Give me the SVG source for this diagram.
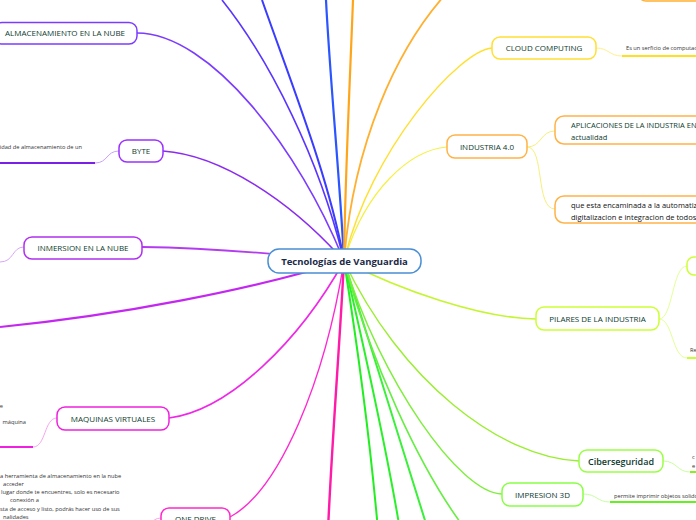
<svg xmlns="http://www.w3.org/2000/svg" width="696" height="520" viewBox="0 0 696 520">
<style>
.lbl{font-family:"Open Sans","Noto Sans","Liberation Sans",sans-serif;font-size:8px;fill:#0d3b2e;text-anchor:middle}
.sm{font-family:"Open Sans","Noto Sans","Liberation Sans",sans-serif;font-size:5.7px;fill:#333}
.box{fill:#fff;stroke-width:1.5}
.c{fill:none}
</style>
<rect width="696" height="520" fill="#fff"/>
<g id="connectors">
  <path class="c" d="M222,0 C270,60 320,160 344,261" stroke="#5a35ff" stroke-width="1.6"/>
  <path class="c" d="M137,33 C210,33 300,150 344,261" stroke="#7b3cff" stroke-width="1.6"/>
  <path class="c" d="M262,0 C290,80 330,180 344,261" stroke="#3a3cff" stroke-width="2"/>
  <path class="c" d="M326,0 C330,80 340,180 344,261" stroke="#2a55ff" stroke-width="2.2"/>
  <path class="c" d="M353,0 C350,80 345,180 344,261" stroke="#ffa51a" stroke-width="2.2"/>
  <path class="c" d="M344,261 C352,160 390,40 470,-30" stroke="#ffb030" stroke-width="1.8"/>
  <path class="c" d="M492,48 C460,50 370,150 344,261" stroke="#ffe030" stroke-width="1.4"/>
  <path class="c" d="M447,147 C410,150 365,190 344,261" stroke="#f5f040" stroke-width="1.2"/>
  <path class="c" d="M163,151 C220,155 290,200 344,261" stroke="#8a2cf0" stroke-width="1.6"/>
  <path class="c" d="M142,247 C220,248 290,255 344,261" stroke="#b43cf0" stroke-width="1.8"/>
  <path class="c" d="M0,327 C120,315 250,290 344,261" stroke="#c428f0" stroke-width="2.2"/>
  <path class="c" d="M169,418 C230,410 300,340 344,261" stroke="#ee28e6" stroke-width="1.6"/>
  <path class="c" d="M230,517 C280,490 325,380 344,261" stroke="#ff28d0" stroke-width="1.4"/>
  <path class="c" d="M328,530 C332,440 340,340 344,261" stroke="#ff1aa8" stroke-width="2.4"/>
  <path class="c" d="M344,261 C355,330 370,440 378,530" stroke="#22ee22" stroke-width="2"/>
  <path class="c" d="M344,261 C360,330 385,440 400,530" stroke="#2af02a" stroke-width="2"/>
  <path class="c" d="M344,261 C365,330 400,440 428,530" stroke="#3af03a" stroke-width="2"/>
  <path class="c" d="M344,261 C370,360 420,470 466,530" stroke="#66ee44" stroke-width="1.6"/>
  <path class="c" d="M502,494 C460,494 380,380 344,261" stroke="#7eee3c" stroke-width="1.4"/>
  <path class="c" d="M579,461 C500,458 400,380 344,261" stroke="#9aee30" stroke-width="1.4"/>
  <path class="c" d="M536,319 C480,318 400,290 344,261" stroke="#c4f530" stroke-width="1.6"/>
  <!-- sub-branches -->
  <path class="c" d="M119,151 C106,151 108,163 95,163" stroke="#c9a0ff" stroke-width="1"/>
  <path class="c" d="M95,163 L-5,163" stroke="#7a1fe6" stroke-width="2"/>
  <path class="c" d="M24,247 C12,247 14,262 0,262" stroke="#d8a6f8" stroke-width="1"/>
  <path class="c" d="M57,418 C44,418 46,447 33,447" stroke="#f6a6f0" stroke-width="1"/>
  <path class="c" d="M33,447 L-5,447" stroke="#f020e0" stroke-width="2"/>
  <path class="c" d="M161,518 C150,518 150,530 140,530" stroke="#f6a6ea" stroke-width="1"/>
  <path class="c" d="M596,48 C609,48 609,56 622,56" stroke="#fff08a" stroke-width="1"/>
  <path class="c" d="M622,56 L700,56" stroke="#ffe020" stroke-width="2"/>
  <path class="c" d="M527,147 C542,147 540,131 555,131" stroke="#f5f07a" stroke-width="1"/>
  <path class="c" d="M527,147 C545,147 535,209 555,209" stroke="#f5f07a" stroke-width="1"/>
  <path class="c" d="M659,319 C673,319 672,266 687,266" stroke="#e2ff96" stroke-width="1"/>
  <path class="c" d="M659,319 C673,319 672,358 687,358" stroke="#e2ff96" stroke-width="1"/>
  <path class="c" d="M687,358 L700,358" stroke="#c8ff30" stroke-width="2"/>
  <path class="c" d="M663,461 C677,461 677,472 690,472" stroke="#c8ff9a" stroke-width="1"/>
  <path class="c" d="M690,472 L700,472" stroke="#88ee22" stroke-width="2"/>
  <path class="c" d="M583,494 C597,494 597,502 610,502" stroke="#c4ffa0" stroke-width="1"/>
  <path class="c" d="M610,502 L700,502" stroke="#66f022" stroke-width="2"/>
</g>
<g id="n-center">
  <rect class="box" x="268" y="249" width="153" height="24" rx="11" stroke="#4a8fd4" stroke-width="1.2"/>
  <text x="344.5" y="264.5" style="font-family:'Open Sans','Noto Sans',sans-serif;font-size:9.5px;font-weight:bold;fill:#1b2a48;text-anchor:middle">Tecnologías de Vanguardia</text>
</g>
<g id="n-almacenamiento">
  <rect class="box" x="-6" y="22.5" width="143" height="21.5" rx="8" stroke="#7b3cff"/>
  <text class="lbl" x="65" y="36">ALMACENAMIENTO EN LA NUBE</text>
</g>
<g id="n-byte">
  <rect class="box" x="119" y="140" width="44" height="22" rx="8" stroke="#9b30ff"/>
  <text class="lbl" x="141" y="154">BYTE</text>
  <text class="sm" x="82" y="149" text-anchor="end">Unidad de almacenamiento de un</text>
</g>
<g id="n-inmersion">
  <rect class="box" x="24" y="237" width="118" height="22" rx="8" stroke="#b030f0"/>
  <text class="lbl" x="83" y="251">INMERSION EN LA NUBE</text>
</g>
<g id="n-maquinas">
  <rect class="box" x="57" y="407" width="112" height="23" rx="8" stroke="#ee22dd"/>
  <text class="lbl" x="113" y="421.5">MAQUINAS VIRTUALES</text>
  <text class="sm" x="3" y="408" text-anchor="end">e</text>
  <text class="sm" x="26" y="424" text-anchor="end">máquina</text>
</g>
<g id="n-onedrive">
  <rect class="box" x="161" y="508" width="69" height="22" rx="8" stroke="#ff28cc"/>
  <text class="lbl" x="195.5" y="522">ONE DRIVE</text>
  <text class="sm" x="0" y="478">a herramienta de almacenamiento en la nube</text>
  <text class="sm" x="3" y="486">acceder</text>
  <text class="sm" x="1" y="494">lugar donde te encuentres, solo es necesario</text>
  <text class="sm" x="10" y="502">conexión a</text>
  <text class="sm" x="0" y="511">sta de acceso y listo, podrás hacer uso de sus</text>
  <text class="sm" x="3" y="519">nalidades</text>
</g>
<g id="n-topright">
  <rect class="box" x="638" y="-21" width="80" height="22" rx="8" stroke="#ffb030"/>
</g>
<g id="n-cloud">
  <rect class="box" x="492" y="37" width="104" height="22" rx="8" stroke="#ffe033"/>
  <text class="lbl" x="544" y="51">CLOUD COMPUTING</text>
  <text class="sm" x="626" y="50">Es un serficio de computación</text>
</g>
<g id="n-industria">
  <rect class="box" x="447" y="135" width="80" height="23" rx="8" stroke="#ffb347"/>
  <text class="lbl" x="487" y="149.5">INDUSTRIA 4.0</text>
</g>
<g id="n-aplicaciones">
  <rect class="box" x="555" y="116" width="160" height="28" rx="9" stroke="#ffb347"/>
  <text class="lbl" x="571" y="128" style="font-size:7.5px;text-anchor:start">APLICACIONES DE LA INDUSTRIA EN LA</text>
  <text class="lbl" x="571" y="140" style="font-size:7.5px;text-anchor:start">actualidad</text>
</g>
<g id="n-automatiza">
  <rect class="box" x="555" y="196" width="160" height="27" rx="9" stroke="#ffb347"/>
  <text class="lbl" x="571" y="208" style="font-size:7.5px;text-anchor:start;fill:#111">que esta encaminada a la automatización,</text>
  <text class="lbl" x="571" y="220" style="font-size:7.5px;text-anchor:start;fill:#111">digitalizacion e integracion de todos los</text>
</g>
<g id="n-pilares">
  <rect class="box" x="536" y="307" width="123" height="23" rx="8" stroke="#ccff33"/>
  <text class="lbl" x="597.5" y="321.5">PILARES DE LA INDUSTRIA</text>
</g>
<g id="n-pilares-a">
  <rect class="box" x="687" y="257" width="30" height="18" rx="7" stroke="#ccff33"/>
</g>
<g id="n-pilares-b">
  <text class="sm" x="690" y="352">Re</text>
</g>
<g id="n-ciber">
  <rect class="box" x="579" y="450" width="84" height="22" rx="8" stroke="#99ff44"/>
  <text class="lbl" x="621" y="465" style="font-size:9px;font-weight:600">Ciberseguridad</text>
  <text class="sm" x="692" y="459">c</text>
  <text class="sm" x="692" y="468">e</text>
</g>
<g id="n-impresion">
  <rect class="box" x="502" y="483" width="81" height="23" rx="8" stroke="#88ff44"/>
  <text class="lbl" x="542.5" y="497.5">IMPRESION 3D</text>
  <text class="sm" x="614" y="498">permite imprimir objetos solidos</text>
</g>
</svg>
